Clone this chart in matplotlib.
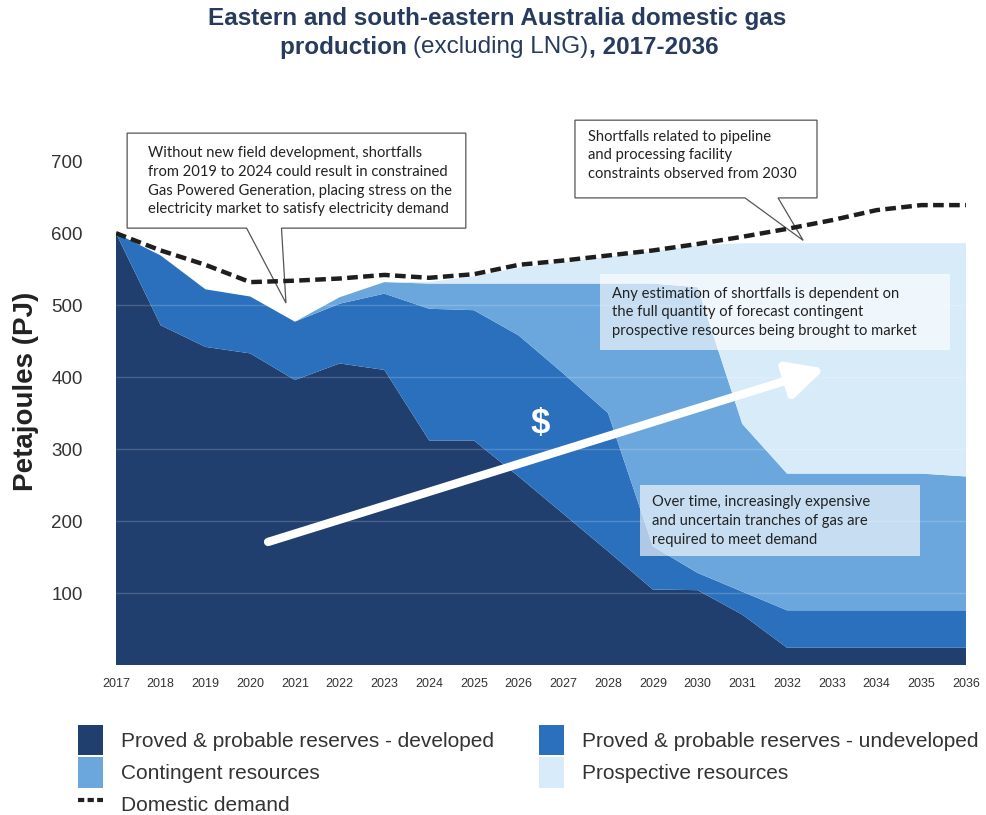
import matplotlib
matplotlib.use("Agg")
import matplotlib.pyplot as plt
from matplotlib.patches import Polygon, Patch, Rectangle
from matplotlib.lines import Line2D

plt.rcParams["font.family"] = ["Liberation Sans", "DejaVu Sans"]

# data (PJ)
years = list(range(2017, 2037))
developed = [600, 472, 442, 433, 396, 419, 410, 312, 312, 262, 210, 158, 105, 104, 70, 24, 24, 24, 24, 24]
undeveloped = [0, 97, 80, 79, 81, 83, 106, 183, 181, 196, 195, 192, 60, 24, 32, 52, 52, 52, 52, 52]
contingent = [0, 0, 0, 0, 0, 9, 16, 35, 37, 72, 125, 180, 365, 397, 233, 190, 190, 190, 190, 186]
prospective = [0, 0, 0, 0, 0, 0, 0, 2, 10, 22, 30, 37, 45, 58, 251, 320, 320, 320, 320, 324]
demand = [600, 576, 556, 532, 534, 537, 542, 538, 543, 556, 562, 569, 576, 585, 595, 606, 618, 632, 639, 639]

labels = ["Proved & probable reserves - developed", "Proved & probable reserves - undeveloped",
          "Contingent resources", "Prospective resources", "Domestic demand"]
colors = ["#203e6e", "#2b70bd", "#6ba7dd", "#d8ebf9"]
ytick_vals = [100, 200, 300, 400, 500, 600, 700]

note1 = ("Without new field development, shortfalls\n"
         "from 2019 to 2024 could result in constrained\n"
         "Gas Powered Generation, placing stress on the\n"
         "electricity market to satisfy electricity demand")
note2 = ("Shortfalls related to pipeline\n"
         "and processing facility\n"
         "constraints observed from 2030")
note3 = ("Any estimation of shortfalls is dependent on\n"
         "the full quantity of forecast contingent\n"
         "prospective resources being brought to market")
note4 = ("Over time, increasingly expensive\n"
         "and uncertain tranches of gas are\n"
         "required to meet demand")

navy = "#263b5e"
txt = "#333333"

fig = plt.figure(figsize=(9.86, 8.15), dpi=100)
ax = fig.add_axes([0.1176, 0.184, 0.8621, 0.6712])

ax.stackplot(years, developed, undeveloped, contingent, prospective,
             colors=colors, linewidth=0, zorder=1)
for v in ytick_vals:
    ax.axhline(v, color="white", alpha=0.18, lw=1, zorder=2)

ax.plot(years, demand, color="#1e1e1e", lw=3.2, dashes=(2.4, 1.2), zorder=5)

ax.set_xlim(2017, 2036)
ax.set_ylim(0, 760)
ax.set_xticks(years)
ax.set_xticklabels([str(y) for y in years], fontsize=9, color=txt)
ax.set_yticks(ytick_vals)
ax.set_yticklabels([str(v) for v in ytick_vals], fontsize=13.5, color=txt)
ax.tick_params(length=0)
ax.tick_params(axis="y", pad=24)
ax.tick_params(axis="x", pad=9)
for s in ax.spines.values():
    s.set_visible(False)
ax.set_ylabel("Petajoules (PJ)", fontsize=20, fontweight="bold", color="#222222", labelpad=9)

note_font = ["Lato", "DejaVu Sans"]
nfs = 10.6


def callout(x0, x1, y0, y1, bx0, bx1, tip):
    pts = [(x0, y1), (x1, y1), (x1, y0), (bx1, y0), tip, (bx0, y0), (x0, y0)]
    p = Polygon(pts, closed=True, facecolor="white", edgecolor="#555555", lw=0.9,
                zorder=3, clip_on=False)
    ax.add_patch(p)


callout(2017.25, 2024.82, 607, 739, 2019.92, 2020.70, (2020.80, 503))
ax.text(2017.72, 672, note1, fontsize=nfs, family=note_font, color="#222222",
        va="center", ha="left", linespacing=1.42, zorder=6)

callout(2027.26, 2032.67, 649, 757, 2031.06, 2031.80, (2032.36, 590))
ax.text(2027.55, 708, note2, fontsize=nfs, family=note_font, color="#222222",
        va="center", ha="left", linespacing=1.42, zorder=6, clip_on=False)

ax.add_patch(Rectangle((2027.82, 437), 7.82, 106, facecolor="white", alpha=0.62,
                       lw=0, zorder=3))
ax.text(2028.09, 490, note3, fontsize=nfs, family=note_font, color="#222222",
        va="center", ha="left", linespacing=1.42, zorder=6)

ax.add_patch(Rectangle((2028.71, 151), 6.26, 99, facecolor="white", alpha=0.62,
                       lw=0, zorder=3))
ax.text(2028.98, 200, note4, fontsize=nfs, family=note_font, color="#222222",
        va="center", ha="left", linespacing=1.42, zorder=6)

# cost arrow
ax.annotate("", xy=(2032.85, 412), xytext=(2020.40, 171),
            arrowprops=dict(arrowstyle="-|>,head_length=1.1,head_width=0.55",
                            color="white", lw=6, mutation_scale=20, shrinkA=0, shrinkB=0),
            zorder=4)
ax.text(2026.48, 336, "$", fontsize=25, fontweight="bold", color="white",
        ha="center", va="center", zorder=6)

# title
tfs = 17.5
fig.text(0.504, 0.977, "Eastern and south-eastern Australia domestic gas",
         fontsize=tfs, fontweight="bold", color=navy, ha="center", va="center")
parts = [("production ", "bold"), ("(excluding LNG)", "normal"), (", 2017-2036", "bold")]
fig.canvas.draw()
r = fig.canvas.get_renderer()
tparts = []
for s, w in parts:
    t = fig.text(0, 0.942, s, fontsize=tfs, fontweight=w, color=navy, ha="left",
                 va="center")
    tparts.append(t)
widths = [t.get_window_extent(renderer=r).width for t in tparts]
x = 0.506 * fig.bbox.width - sum(widths) / 2
for t, w in zip(tparts, widths):
    t.set_x(x / fig.bbox.width)
    x += w

# legend
h_dev = Patch(facecolor=colors[0])
h_und = Patch(facecolor=colors[1])
h_con = Patch(facecolor=colors[2])
h_pro = Patch(facecolor=colors[3])
h_dem = Line2D([0], [0], color="#222222", lw=3, dashes=(1.5, 0.8))
kw = dict(frameon=False, handlelength=1.2, handleheight=1.9,
          handletextpad=0.85, labelspacing=0.07, borderpad=0, borderaxespad=0,
          loc="upper left", prop={"size": 15})
leg1 = fig.legend([h_dev, h_con, h_dem], [labels[0], labels[2], labels[4]],
                  bbox_to_anchor=(0.079, 0.111), **kw)
leg2 = fig.legend([h_und, h_pro], [labels[1], labels[3]],
                  bbox_to_anchor=(0.547, 0.111), **kw)
for leg in (leg1, leg2):
    for t in leg.get_texts():
        t.set_color(txt)

fig.savefig("out.png", dpi=100)
